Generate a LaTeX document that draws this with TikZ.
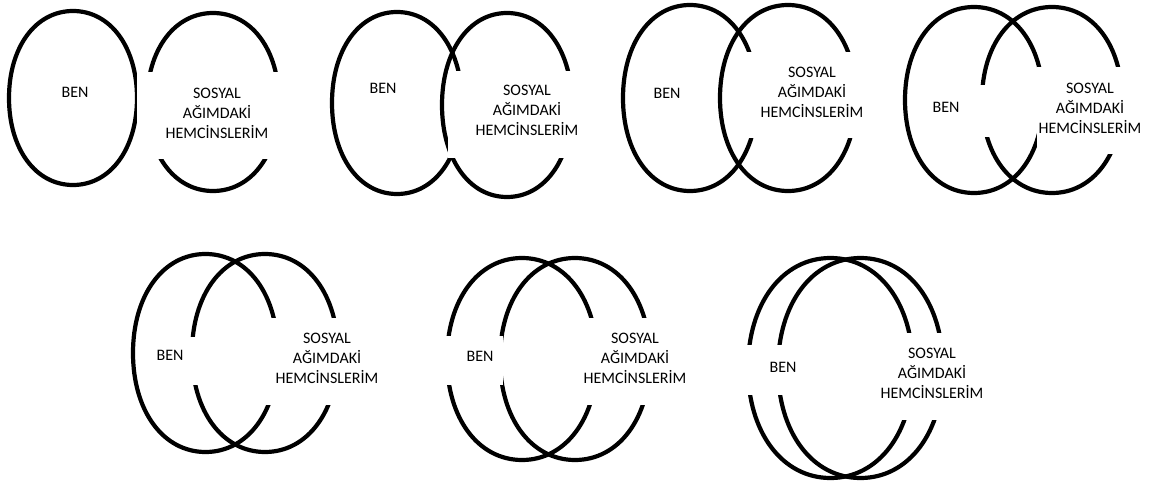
\documentclass[tikz,border=0pt]{standalone}
\usepackage{fontspec}
\setmainfont{Carlito}
\newcommand{\kk}{0.585}
\newcommand{\ovalat}[4]{%
  \draw[ovalline,shift={(#1,#2)},xscale=#3,yscale=#4]
    (1,0) .. controls (1,\kk) and (\kk,1) .. (0,1)
          .. controls (-\kk,1) and (-1,\kk) .. (-1,0)
          .. controls (-1,-\kk) and (-\kk,-1) .. (0,-1)
          .. controls (\kk,-1) and (1,-\kk) .. cycle;}
\tikzset{
  ovalline/.style={draw=black,line width=4.2pt},
  mask/.style={draw=none,fill=white,inner sep=0pt},
  lbl/.style={inner sep=0pt,align=center,font=\fontsize{16pt}{20pt}\selectfont,text=black}
}
\begin{document}
\begin{tikzpicture}[x=1pt,y=-1pt]
\useasboundingbox (0,0) rectangle (1156,489);
% ---- ovals ----
\ovalat{73}{98}{64}{87}
\ovalat{213}{102}{66}{89}
\ovalat{397}{103}{65}{91}
\ovalat{507}{105}{65}{92}
\ovalat{690}{98}{67}{93}
\ovalat{788}{98}{68}{93}
\ovalat{974}{100}{69}{93}
\ovalat{1052}{100}{70}{93}
\ovalat{205.5}{353}{72.5}{99}
\ovalat{265}{353}{73}{99}
\ovalat{522}{359}{75}{101}
\ovalat{575}{359}{75}{101}
\ovalat{830.5}{368}{82.5}{110}
\ovalat{860.5}{368}{82.5}{110}
% ---- white masks ----
\node[mask,minimum width=160pt,minimum height=87pt] (m1) at (217,115.5) {};
\node[mask,minimum width=158pt,minimum height=87pt] (m2) at (527,114.5) {};
\node[mask,minimum width=158pt,minimum height=86pt] (m3) at (812,95) {};
\node[mask,minimum width=106pt,minimum height=87pt] (m4) at (1090,110.5) {};
\node[mask,minimum width=64pt,minimum height=52pt] (b4) at (960,111) {};
\node[mask,minimum width=124pt,minimum height=87pt] (m5) at (326,361.5) {};
\node[mask,minimum width=49pt,minimum height=48pt] (b5) at (174.5,361) {};
\node[mask,minimum width=104pt,minimum height=87pt] (m6) at (635,361.5) {};
\node[mask,minimum width=60pt,minimum height=49pt] (b6) at (473,360.5) {};
\node[mask,minimum width=110pt,minimum height=87pt] (m7) at (932,376.5) {};
\node[mask,minimum width=41pt,minimum height=50pt] (b7) at (765.5,370) {};
% ---- labels ----
\node[lbl] (ben1) at (75,92) {BEN};
\node[lbl] (s1) at (217,113) {SOSYAL\\AĞIMDAKİ\\HEMCİNSLERİM};
\node[lbl] (ben2) at (383,88) {BEN};
\node[lbl] (s2) at (527,110) {SOSYAL\\AĞIMDAKİ\\HEMCİNSLERİM};
\node[lbl] (ben3) at (667,93) {BEN};
\node[lbl] (s3) at (812,92) {SOSYAL\\AĞIMDAKİ\\HEMCİNSLERİM};
\node[lbl] (ben4) at (946,107) {BEN};
\node[lbl] (s4) at (1090,108) {SOSYAL\\AĞIMDAKİ\\HEMCİNSLERİM};
\node[lbl] (ben5) at (170,355) {BEN};
\node[lbl] (s5) at (327,358) {SOSYAL\\AĞIMDAKİ\\HEMCİNSLERİM};
\node[lbl] (ben6) at (480,356) {BEN};
\node[lbl] (s6) at (635,358) {SOSYAL\\AĞIMDAKİ\\HEMCİNSLERİM};
\node[lbl] (ben7) at (783,367) {BEN};
\node[lbl] (s7) at (932,373) {SOSYAL\\AĞIMDAKİ\\HEMCİNSLERİM};
\end{tikzpicture}
\end{document}
